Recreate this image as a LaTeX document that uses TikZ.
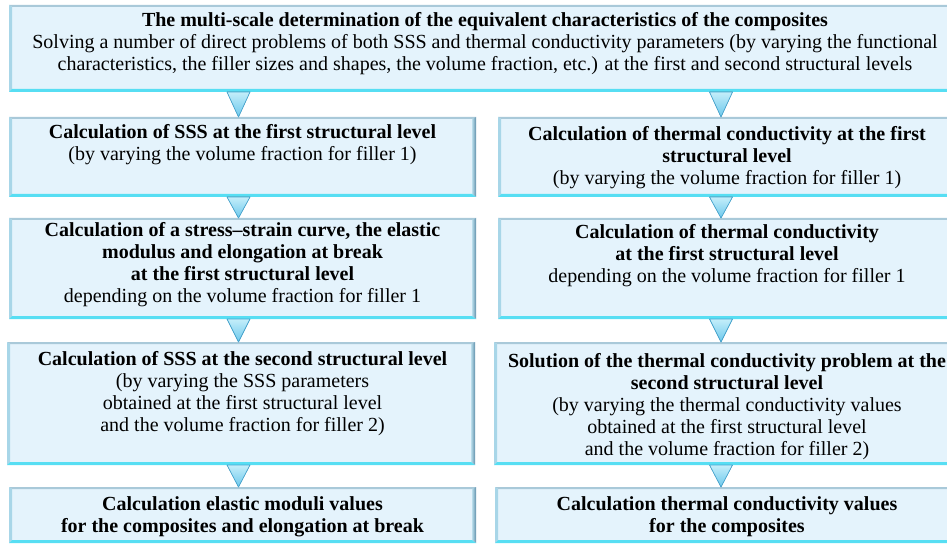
\documentclass[tikz,border=0pt]{standalone}
\usepackage{fontspec}
\setmainfont{Liberation Serif}
\usetikzlibrary{calc}
\definecolor{boxfill}{HTML}{E4F3FC}
\definecolor{bvtop}{HTML}{A9C9D9}
\definecolor{bvleft}{HTML}{A8D6E8}
\definecolor{bvrightout}{HTML}{5F90AB}
\definecolor{bvrightin}{HTML}{BADDEB}
\definecolor{bvbot}{HTML}{57DEF3}
\definecolor{tritop}{HTML}{C4EEFA}
\definecolor{tribot}{HTML}{6CC8EC}
\definecolor{tridraw}{HTML}{47A7D2}
\tikzset{
  box/.style={fill=boxfill, draw=none, inner sep=0pt, outer sep=0pt, anchor=north west},
  txt/.style={align=center, font=\fontsize{20}{22}\selectfont, inner sep=0pt, text=black},
  tri/.style={top color=tritop, bottom color=tribot, draw=tridraw, line width=0.7pt, line join=round}
}
\newcommand{\bevelbox}[1]{%
  \fill[bvtop] (#1.north west) -- (#1.north east) -- ($(#1.north east)+(-3,2)$) -- ($(#1.north west)+(3,2)$) -- cycle;
  \fill[bvleft] (#1.north west) -- ($(#1.north west)+(3,2)$) -- ($(#1.south west)+(3,-3)$) -- (#1.south west) -- cycle;
  \shade[left color=bvrightin, right color=bvrightout] (#1.north east) -- ($(#1.north east)+(-4,2)$) -- ($(#1.south east)+(-4,-3)$) -- (#1.south east) -- cycle;
  \fill[bvbot] (#1.south west) -- ($(#1.south west)+(3,-3)$) -- ($(#1.south east)+(-4,-3)$) -- (#1.south east) -- cycle;
}
\newcommand{\tridown}[3]{% x-coordinate name, upper node, lower node
  \filldraw[tri] ($(#1 |- #2.south)+(-11.5,0)$) -- ($(#1 |- #2.south)+(11.5,0)$) -- (#1 |- #3.north) -- cycle;
}
\begin{document}
\begin{tikzpicture}[x=1pt,y=-1pt]
\useasboundingbox (0,0) rectangle (947,545);
\begin{scope}
\clip (0,0) rectangle (947,545);
% boxes
\node[box, minimum width=952, minimum height=87] (top) at (9,5) {};
\node[box, minimum width=467, minimum height=80] (l1) at (9,117) {};
\node[box, minimum width=458, minimum height=80] (r1) at (498,117) {};
\node[box, minimum width=467, minimum height=101] (l2) at (9,218) {};
\node[box, minimum width=458, minimum height=101] (r2) at (498,218) {};
\node[box, minimum width=468, minimum height=123] (l3) at (7,342) {};
\node[box, minimum width=462, minimum height=123] (r3) at (494,342) {};
\node[box, minimum width=467, minimum height=56] (l4) at (9,487) {};
\node[box, minimum width=461, minimum height=56] (r4) at (495,487) {};
\bevelbox{top}
\bevelbox{l1}\bevelbox{r1}
\bevelbox{l2}\bevelbox{r2}
\bevelbox{l3}\bevelbox{r3}
\bevelbox{l4}\bevelbox{r4}
% arrow axes
\coordinate (lx) at (238.5,0);
\coordinate (rx) at (721,0);
\tridown{lx}{top}{l1}
\tridown{rx}{top}{r1}
\tridown{lx}{l1}{l2}
\tridown{rx}{r1}{r2}
\tridown{lx}{l2}{l3}
\tridown{rx}{r2}{r3}
\tridown{lx}{l3}{l4}
\tridown{rx}{r3}{r4}
% texts
\node[txt] (ttop) at (485,44) {\textbf{The multi-scale determination of the equivalent characteristics of the composites}\\
Solving a number of direct problems of both SSS and thermal conductivity parameters (by varying the functional\\
characteristics, the filler sizes and shapes, the volume fraction, etc.) at the first and second structural levels};
\node[txt] (tl1) at (242.5,145) {\textbf{Calculation of SSS at the first structural level}\\
(by varying the volume fraction for filler 1)};
\node[txt] (tr1) at (727,157.5) {\textbf{Calculation of thermal conductivity at the first}\\
\textbf{structural level}\\
(by varying the volume fraction for filler 1)};
\node[txt] (tl2) at (242.5,265) {\textbf{Calculation of a stress--strain curve, the elastic}\\
\textbf{modulus and elongation at break}\\
\textbf{at the first structural level}\\
depending on the volume fraction for filler 1};
\node[txt] (tr2) at (727,255.5) {\textbf{Calculation of thermal conductivity}\\
\textbf{at the first structural level}\\
depending on the volume fraction for filler 1};
\node[txt] (tl3) at (242.5,393.5) {\textbf{Calculation of SSS at the second structural level}\\
(by varying the SSS parameters\\
obtained at the first structural level\\
and the volume fraction for filler 2)};
\node[txt] (tr3) at (727,406.5) {\textbf{Solution of the thermal conductivity problem at the}\\
\textbf{second structural level}\\
(by varying the thermal conductivity values\\
obtained at the first structural level\\
and the volume fraction for filler 2)};
\node[txt] (tl4) at (242.5,516.5) {\textbf{Calculation elastic moduli values}\\
\textbf{for the composites and elongation at break}};
\node[txt] (tr4) at (727,516.5) {\textbf{Calculation thermal conductivity values}\\
\textbf{for the composites}};
\end{scope}
\end{tikzpicture}
\end{document}
